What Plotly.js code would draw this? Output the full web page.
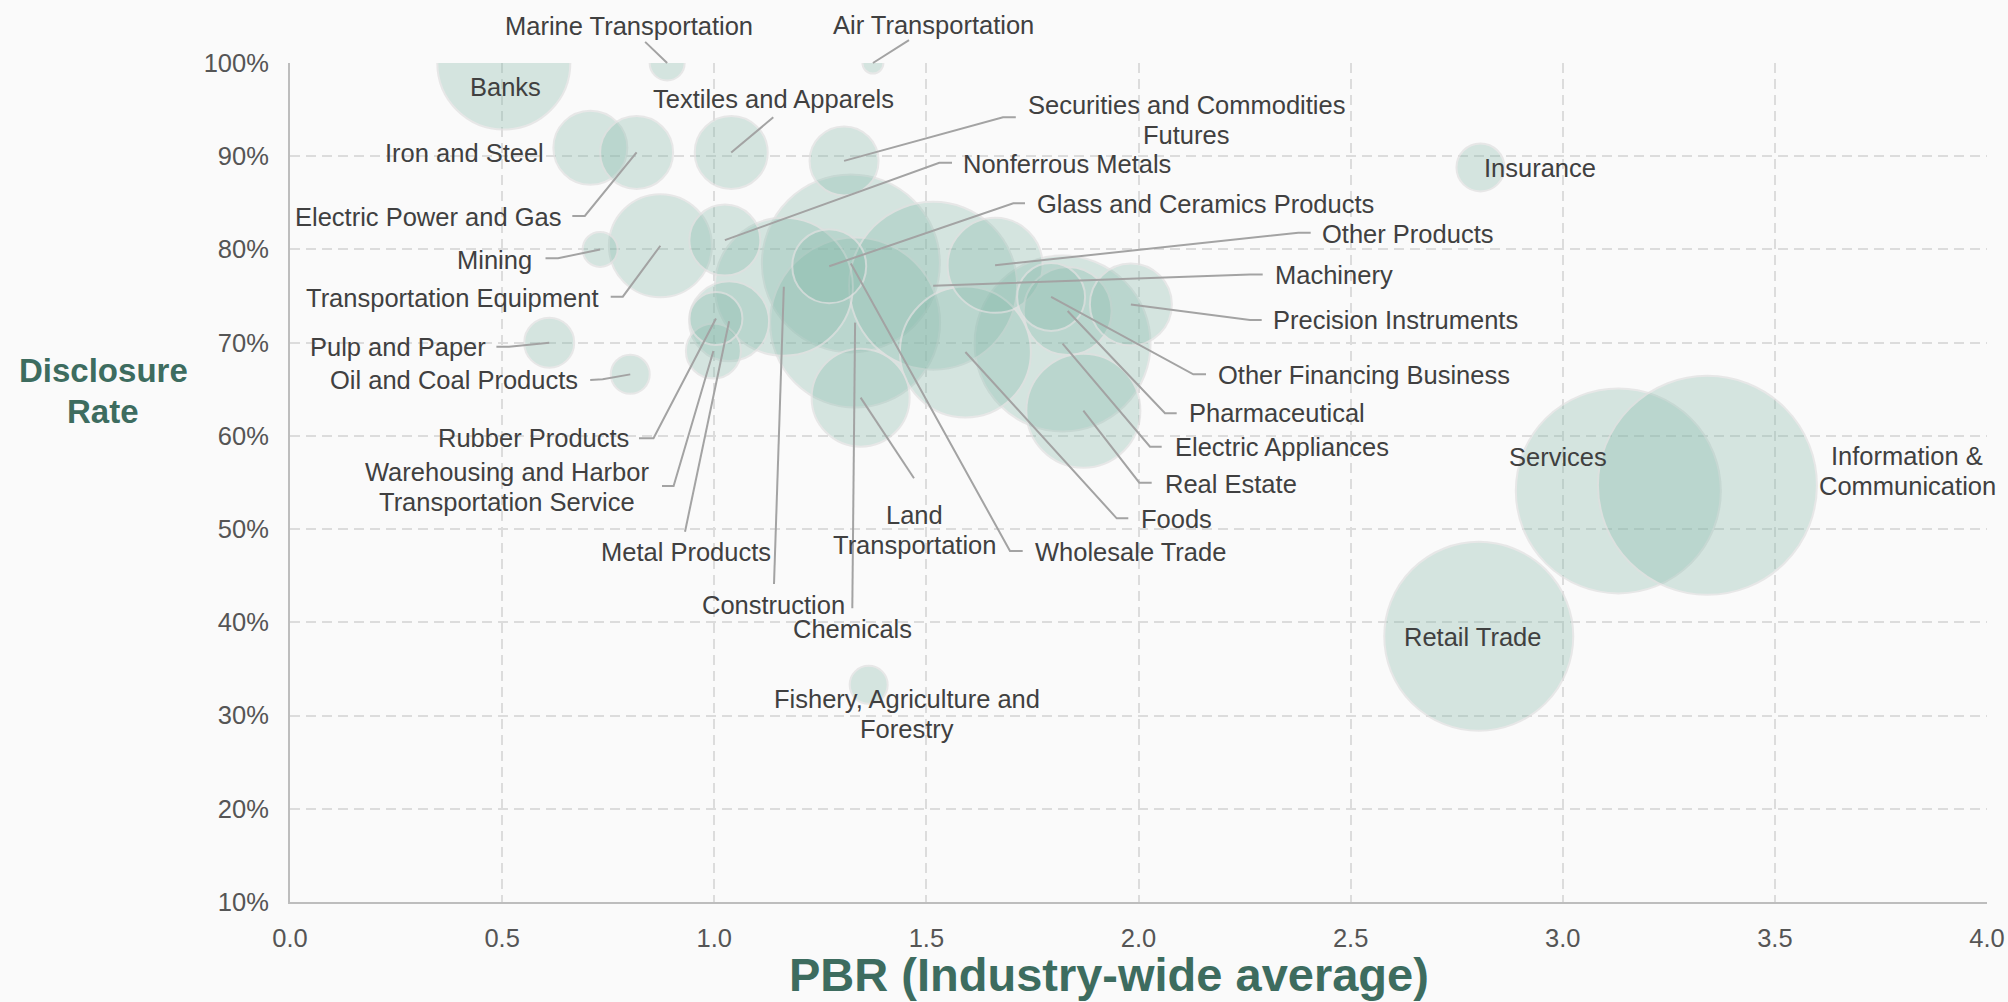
<!DOCTYPE html>
<html>
<head>
<meta charset="utf-8">
<script src="https://cdn.plot.ly/plotly-3.0.1.min.js"></script>
<style>
  html, body { margin: 0; padding: 0; background: #fafafa; }
  #chart { width: 2008px; height: 1002px; }
</style>
</head>
<body>
<div id="chart"></div>
<script>
// ---------------- DATA ----------------
const industries = [
  "Services", "Information & Communication", "Retail Trade", "Wholesale Trade",
  "Electric Appliances", "Chemicals", "Machinery", "Construction", "Banks", "Foods",
  "Real Estate", "Transportation Equipment", "Land Transportation", "Other Products",
  "Pharmaceutical", "Precision Instruments", "Metal Products", "Glass and Ceramics Products",
  "Iron and Steel", "Textiles and Apparels", "Electric Power and Gas", "Nonferrous Metals",
  "Securities and Commodities Futures", "Other Financing Business",
  "Warehousing and Harbor Transportation Service", "Rubber Products", "Pulp and Paper",
  "Insurance", "Oil and Coal Products", "Fishery, Agriculture and Forestry", "Mining",
  "Marine Transportation", "Air Transportation"
];
// PBR (industry-wide average)
const pbr = [
  3.131, 3.341, 2.802, 1.322,
  1.821, 1.332, 1.516, 1.164, 0.504, 1.592,
  1.870, 0.873, 1.345, 1.662,
  1.833, 1.982, 1.035, 1.271,
  0.708, 1.040, 0.817, 1.025,
  1.306, 1.794,
  0.998, 1.004, 0.611,
  2.806, 0.802, 1.364, 0.731,
  0.889, 1.374
];
// Disclosure rate (%)
const disclosure = [
  54.1, 54.7, 38.5, 78.5,
  69.9, 72.15, 76.1, 76.0, 100.0, 69.0,
  62.7, 80.4, 64.1, 78.3,
  73.4, 74.1, 72.3, 78.2,
  90.9, 90.4, 90.4, 81.0,
  89.5, 74.9,
  69.1, 72.6, 70.0,
  88.8, 66.6, 33.3, 80.0,
  100.0, 100.0
];
// bubble size (diameter)
const bubbleSize = [
  205, 219, 189, 178,
  176, 170, 168, 138, 133, 131,
  114, 103, 98, 95,
  88, 82, 80, 74,
  74, 73, 73, 71,
  69, 68,
  55, 53, 50,
  48, 39, 38, 35,
  35, 21
];
const xTickVals = [0, 0.5, 1, 1.5, 2, 2.5, 3, 3.5, 4];
const xTickText = ["0.0", "0.5", "1.0", "1.5", "2.0", "2.5", "3.0", "3.5", "4.0"];
const yTickVals = [10, 20, 30, 40, 50, 60, 70, 80, 90, 100];
const yTickText = ["10%", "20%", "30%", "40%", "50%", "60%", "70%", "80%", "90%", "100%"];

// ---------------- LAYOUT HELPERS ----------------
const W = 2008, H = 1002;
const M = { l: 290, r: 21, t: 63, b: 100 };
const XR = [0, 4], YR = [10, 100];
const PW = W - M.l - M.r, PH = H - M.t - M.b;
const px2x = px => XR[0] + (px - M.l) / PW * (XR[1] - XR[0]);
const py2y = py => YR[1] - (py - M.t) / PH * (YR[1] - YR[0]);
const px2paper = px => (px - M.l) / PW;
const py2paper = py => 1 - (py - M.t) / PH;

const FONT = "Liberation Sans, Arial, Helvetica, sans-serif";
const LABEL_COLOR = "#404040";
const GREEN = "#3d6c5f";
const LINE_GAP = 30;

// label placement (pixel positions of text, y = middle of first line)
const labelLayout = [
  ["Banks", 505.8, 87, "center"],
  ["Textiles and Apparels", 773.3, 98.5, "center"],
  ["Securities and Commodities\nFutures", 1186, 105, "center"],
  ["Nonferrous Metals", 961, 164, "left"],
  ["Glass and Ceramics Products", 1035, 203.5, "left"],
  ["Other Products", 1320.3, 233.5, "left"],
  ["Machinery", 1272.7, 275, "left"],
  ["Precision Instruments", 1270.7, 320, "left"],
  ["Other Financing Business", 1216, 375, "left"],
  ["Pharmaceutical", 1187.3, 413.5, "left"],
  ["Electric Appliances", 1172.7, 447, "left"],
  ["Real Estate", 1162.7, 483.5, "left"],
  ["Foods", 1138.7, 518.5, "left"],
  ["Wholesale Trade", 1032.7, 551.7, "left"],
  ["Land\nTransportation", 914, 515, "center"],
  ["Chemicals", 852.2, 629, "center"],
  ["Construction", 773.3, 605, "center"],
  ["Metal Products", 685.6, 551.7, "center"],
  ["Warehousing and Harbor\nTransportation Service", 506.6, 471.7, "center"],
  ["Rubber Products", 630.5, 438.3, "right"],
  ["Oil and Coal Products", 580.4, 380, "right"],
  ["Pulp and Paper", 487.5, 346.7, "right"],
  ["Transportation Equipment", 600.4, 298.3, "right"],
  ["Mining", 533.5, 260, "right"],
  ["Electric Power and Gas", 562.5, 216.7, "right"],
  ["Iron and Steel", 545.5, 152.7, "right"],
  ["Insurance", 1482, 168.3, "left"],
  ["Services", 1558, 457.3, "center"],
  ["Information &\nCommunication", 1907, 456, "center"],
  ["Retail Trade", 1472.7, 636.7, "center"],
  ["Fishery, Agriculture and\nForestry", 906.5, 699.3, "center"]
];
// leader lines: label-side pixel points, ending at the bubble of the industry
const leaderLayout = [
  ["Textiles and Apparels", [[773.3, 117.3]]],
  ["Securities and Commodities Futures", [[1015.8, 117.3], [1003, 117.3]]],
  ["Nonferrous Metals", [[952, 162.7], [939.3, 162.7]]],
  ["Glass and Ceramics Products", [[1025, 203.3], [1013.3, 203.3]]],
  ["Other Products", [[1310.7, 232.7], [1298.3, 232.7]]],
  ["Machinery", [[1262.7, 274.5], [1250, 274.5]]],
  ["Precision Instruments", [[1261.7, 320], [1250, 320]]],
  ["Other Financing Business", [[1206, 374.3], [1193.3, 374.3]]],
  ["Pharmaceutical", [[1176.7, 413.3], [1165, 413.3]]],
  ["Electric Appliances", [[1161.7, 446.7], [1150, 446.7]]],
  ["Real Estate", [[1151.7, 482.7], [1139.3, 482.7]]],
  ["Foods", [[1128.3, 518.3], [1116.7, 518.3]]],
  ["Wholesale Trade", [[1022.7, 551], [1010, 551]]],
  ["Land Transportation", [[914, 478.3]]],
  ["Chemicals", [[852.3, 608.3]]],
  ["Construction", [[774, 584]]],
  ["Metal Products", [[685, 531.7]]],
  ["Warehousing and Harbor Transportation Service", [[662, 486], [673.6, 486]]],
  ["Rubber Products", [[639, 438.3], [653.5, 438.3]]],
  ["Oil and Coal Products", [[590.2, 380], [602.7, 379.3]]],
  ["Pulp and Paper", [[496.4, 346.7], [509, 346.7]]],
  ["Transportation Equipment", [[610.7, 296.7], [622.8, 296.7]]],
  ["Mining", [[545.5, 258.3], [558, 258.3]]],
  ["Electric Power and Gas", [[572.3, 216], [584.8, 216]]]
];
// labels above the plot with a straight pointer to their bubble (text offset in px)
const pointerLabels = [
  ["Marine Transportation", -38.2, -36.6],
  ["Air Transportation", 60.6, -38.3]
];

// ---------------- BUILD ----------------
const bubbles = {
  type: "scatter", mode: "markers",
  x: pbr, y: disclosure, text: industries, hoverinfo: "text",
  marker: {
    size: bubbleSize, sizemode: "diameter",
    color: "rgba(136,188,172,0.47)",
    line: { color: "#e0e0e0", width: 2 }
  },
  cliponaxis: true, showlegend: false
};

const lx = [], ly = [];
leaderLayout.forEach(([name, pts]) => {
  const i = industries.indexOf(name);
  pts.forEach(p => { lx.push(px2x(p[0])); ly.push(py2y(p[1])); });
  lx.push(pbr[i]); ly.push(disclosure[i]);
  lx.push(null); ly.push(null);
});
const leaders = {
  type: "scatter", mode: "lines", x: lx, y: ly,
  line: { color: "#a3a3a3", width: 2 }, hoverinfo: "skip", showlegend: false
};

const annotations = [];
labelLayout.forEach(([text, x, y, anchor]) => {
  text.split("\n").forEach((line, k) => {
    annotations.push({
      xref: "paper", yref: "paper",
      x: px2paper(x), y: py2paper(y + k * LINE_GAP),
      xanchor: anchor, yanchor: "middle",
      text: line, showarrow: false,
      font: { family: FONT, size: 25.5, color: LABEL_COLOR }
    });
  });
});
pointerLabels.forEach(([name, ax, ay]) => {
  const i = industries.indexOf(name);
  annotations.push({
    xref: "x", yref: "y", x: pbr[i], y: disclosure[i],
    ax: ax, ay: ay, text: name, showarrow: true, arrowhead: 0,
    arrowwidth: 2, arrowcolor: "#a3a3a3", standoff: 0, startstandoff: 0,
    font: { family: FONT, size: 25.5, color: LABEL_COLOR }
  });
});
// axis titles
annotations.push({
  xref: "paper", yref: "paper", x: px2paper(1109), y: py2paper(974),
  xanchor: "center", yanchor: "middle", showarrow: false,
  text: "<b>PBR (Industry-wide average)</b>",
  font: { family: FONT, size: 47, color: GREEN }
});
annotations.push({
  xref: "paper", yref: "paper", x: px2paper(103), y: py2paper(370),
  xanchor: "center", yanchor: "middle", showarrow: false,
  text: "<b>Disclosure</b>", font: { family: FONT, size: 33, color: GREEN }
});
annotations.push({
  xref: "paper", yref: "paper", x: px2paper(103), y: py2paper(411.6),
  xanchor: "center", yanchor: "middle", showarrow: false,
  text: "<b>Rate</b>", font: { family: FONT, size: 33, color: GREEN }
});

const gridStyle = { showgrid: true, gridcolor: "#dcdcdc", gridwidth: 2, griddash: "10px,6px" };
const layout = {
  width: W, height: H,
  margin: M,
  paper_bgcolor: "#fafafa", plot_bgcolor: "#fafafa",
  font: { family: FONT, size: 25.5, color: "#555" },
  showlegend: false,
  xaxis: Object.assign({
    range: XR, tickmode: "array", tickvals: xTickVals, ticktext: xTickText,
    showline: true, linecolor: "#bdbdbd", linewidth: 2,
    zeroline: false, ticks: "", ticklabelstandoff: 12,
    tickfont: { family: FONT, size: 25.5, color: "#555" }
  }, gridStyle),
  yaxis: Object.assign({
    range: YR, tickmode: "array", tickvals: yTickVals, ticktext: yTickText,
    showline: true, linecolor: "#bdbdbd", linewidth: 2,
    zeroline: false, ticks: "", ticklabelstandoff: 14,
    tickfont: { family: FONT, size: 25.5, color: "#555" }
  }, gridStyle),
  annotations: annotations
};

Plotly.newPlot("chart", [bubbles, leaders], layout, { displayModeBar: false, staticPlot: true });
</script>
</body>
</html>
